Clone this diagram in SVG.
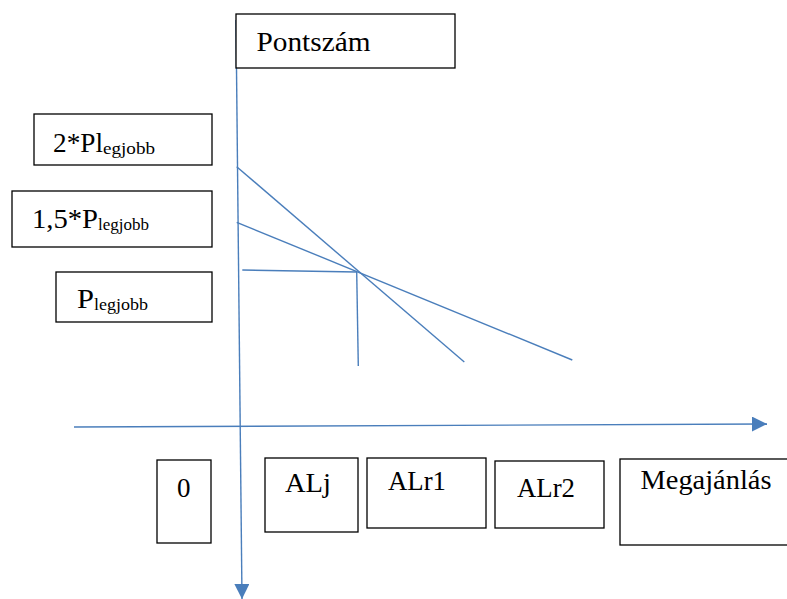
<svg xmlns="http://www.w3.org/2000/svg" width="787" height="599" viewBox="0 0 787 599">
<style>
.box{fill:#fff;stroke:#000;stroke-width:1.3}
.t{font-family:"Liberation Serif","DejaVu Serif",serif;font-size:27px;fill:#000}
.s{font-size:17px}
.ln{stroke:#4a7ebb;stroke-width:1.4;fill:none}
</style>
<defs>
<marker id="ah" viewBox="0 0 10 10" refX="10" refY="5" markerWidth="15" markerHeight="15" markerUnits="userSpaceOnUse" orient="auto">
<path d="M0,0 L10,5 L0,10 z" fill="#4a7ebb"/>
</marker>
</defs>
<g id="connectors">
<line class="ln" x1="236" y1="20" x2="242" y2="599" marker-end="url(#ah)"/>
<line class="ln" x1="74" y1="427" x2="767" y2="424" marker-end="url(#ah)"/>
<line class="ln" x1="236.7" y1="166.7" x2="464.3" y2="362"/>
<line class="ln" x1="236.7" y1="222.3" x2="572.3" y2="360"/>
<line class="ln" x1="242.3" y1="270" x2="356.7" y2="272"/>
<line class="ln" x1="356.7" y1="272" x2="358.3" y2="366"/>
</g>
<g id="pontszam">
<rect class="box" x="236" y="14" width="219" height="54"/>
<text class="t" x="256.5" y="50.5" textLength="114" lengthAdjust="spacingAndGlyphs">Pontszám</text>
</g>
<g id="p2">
<rect class="box" x="34" y="114" width="178" height="51"/>
<text class="t" x="53" y="152"><tspan textLength="50" lengthAdjust="spacingAndGlyphs">2*Pl</tspan><tspan class="s" dy="2" textLength="52" lengthAdjust="spacingAndGlyphs">egjobb</tspan></text>
</g>
<g id="p15">
<rect class="box" x="12" y="191" width="200" height="56"/>
<text class="t" x="32" y="228"><tspan textLength="66" lengthAdjust="spacingAndGlyphs">1,5*P</tspan><tspan class="s" dy="2" textLength="51" lengthAdjust="spacingAndGlyphs">legjobb</tspan></text>
</g>
<g id="p1">
<rect class="box" x="56" y="272" width="156" height="50"/>
<text class="t" x="77" y="308"><tspan textLength="17" lengthAdjust="spacingAndGlyphs">P</tspan><tspan class="s" dy="2" textLength="54" lengthAdjust="spacingAndGlyphs">legjobb</tspan></text>
</g>
<g id="zero">
<rect class="box" x="157" y="460" width="54" height="83"/>
<text class="t" x="177" y="497">0</text>
</g>
<g id="alj">
<rect class="box" x="265" y="458" width="93" height="74"/>
<text class="t" x="285" y="492" textLength="46" lengthAdjust="spacingAndGlyphs">ALj</text>
</g>
<g id="alr1">
<rect class="box" x="367" y="458" width="119" height="70"/>
<text class="t" x="388" y="490" textLength="58" lengthAdjust="spacingAndGlyphs">ALr1</text>
</g>
<g id="alr2">
<rect class="box" x="495" y="461" width="109" height="67"/>
<text class="t" x="517" y="497" textLength="58" lengthAdjust="spacingAndGlyphs">ALr2</text>
</g>
<g id="megajanlas">
<rect class="box" x="620" y="459" width="175" height="86"/>
<text class="t" x="640.5" y="489" textLength="131" lengthAdjust="spacingAndGlyphs">Megajánlás</text>
</g>
</svg>
